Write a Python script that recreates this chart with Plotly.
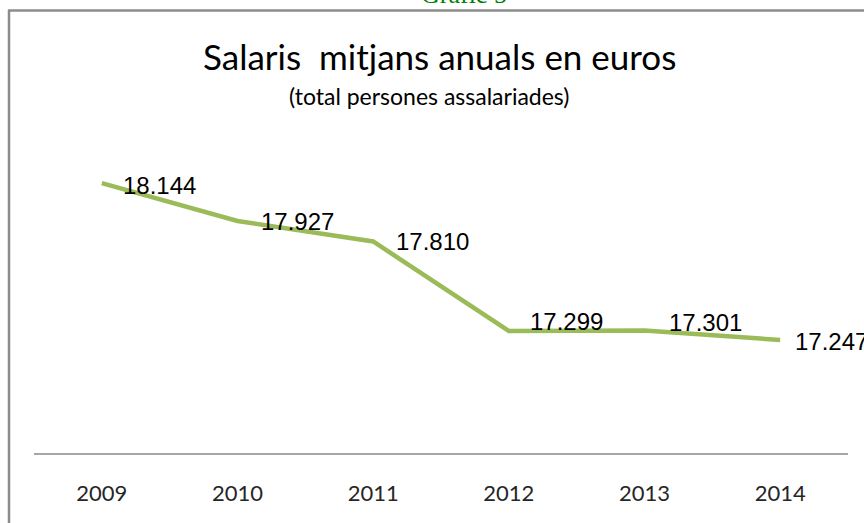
import plotly.graph_objects as go

years = ["2009", "2010", "2011", "2012", "2013", "2014"]
salaries = [18144, 17927, 17810, 17299, 17301, 17247]
labels = ["18.144", "17.927", "17.810", "17.299", "17.301", "17.247"]

# label offsets (style only)
label_dx = [19, 21, 21, 19, 22, 13]
label_dy = [-2, 0, 0, 9, 8, -2]

W, H = 864, 523
L, R, T, B = 34, 16, 150, 70
PH = H - T - B
PW = W - L - R


def py(pix):
    return (H - B - pix) / PH


def px(pix):
    return (pix - L) / PW


fig = go.Figure()
fig.add_trace(go.Scatter(
    x=years, y=salaries, mode="lines",
    line=dict(color="#9BBB59", width=4.5),
    hoverinfo="skip", showlegend=False,
))

annotations = []
for i, (y, t, dx, dy) in enumerate(zip(salaries, labels, label_dx, label_dy)):
    annotations.append(dict(
        x=i, y=y, xref="x", yref="y", text=t, showarrow=False,
        xanchor="left", yanchor="middle", xshift=dx, yshift=dy,
        font=dict(family="Liberation Sans, Arial", size=24, color="#000000"),
    ))

annotations += [
    dict(x=px(439), y=py(56), xref="paper", yref="paper", xanchor="center", yanchor="middle",
         text="Salaris  mitjans anuals en euros", showarrow=False,
         font=dict(family="Lato", size=35, color="#000000")),
    dict(x=px(429), y=py(96), xref="paper", yref="paper", xanchor="center", yanchor="middle",
         text="(total persones assalariades)", showarrow=False,
         font=dict(family="Lato", size=23, color="#000000")),
    dict(x=px(464), y=py(5), xref="paper", yref="paper", xanchor="center", yanchor="bottom",
         yshift=-6, text="Gràfic 5", showarrow=False,
         font=dict(family="Liberation Serif, Times New Roman", size=26, color="#008000")),
]

shapes = [
    dict(type="line", xref="paper", yref="paper", x0=px(8), x1=px(870), y0=py(10.5), y1=py(10.5),
         line=dict(color="#8C8C8C", width=2.5)),
    dict(type="line", xref="paper", yref="paper", x0=px(9), x1=px(9), y0=py(10), y1=py(530),
         line=dict(color="#8C8C8C", width=2.5)),
]

fig.update_layout(
    width=W, height=H,
    margin=dict(l=L, r=R, t=T, b=B),
    paper_bgcolor="white", plot_bgcolor="white",
    annotations=annotations, shapes=shapes,
    showlegend=False,
    xaxis=dict(
        type="category", range=[-0.5, 5.5], showgrid=False, zeroline=False,
        showline=True, linecolor="#A6A6A6", linewidth=1.5,
        ticks="", ticklabelstandoff=20,
        tickfont=dict(family="Lato", size=22, color="#262626"),
        fixedrange=True,
    ),
    yaxis=dict(
        range=[16601, 18333], showgrid=False, zeroline=False, showline=False,
        showticklabels=False, ticks="", fixedrange=True,
    ),
)

fig.write_html("out.html", config={"displayModeBar": False},
               post_script="document.body.style.margin='0';")
